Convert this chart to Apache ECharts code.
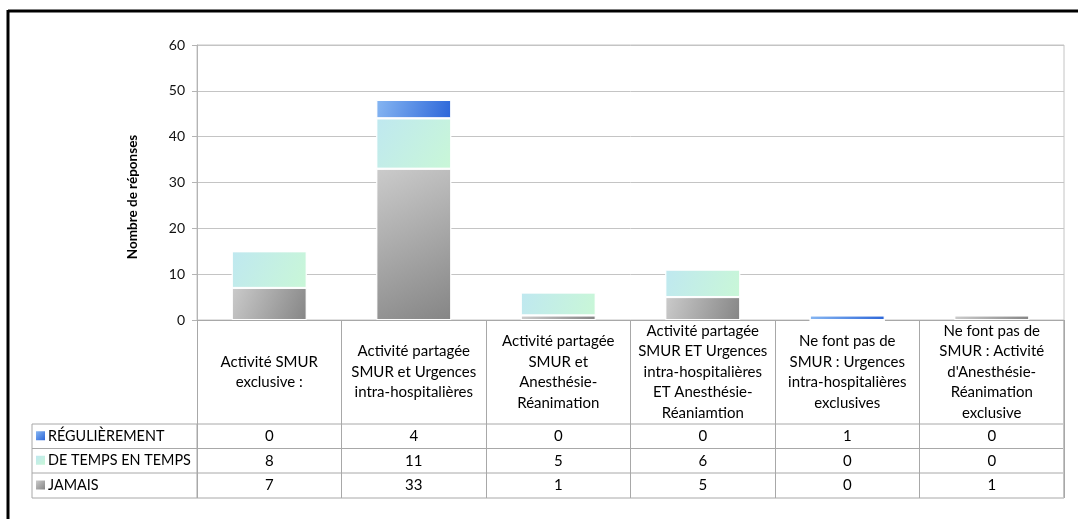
<!DOCTYPE html>
<html>
<head>
<meta charset="utf-8">
<script src="https://cdn.jsdelivr.net/npm/echarts@6/dist/echarts.min.js"></script>
<style>
  html, body { margin: 0; padding: 0; background: #fff; }
  #chart { width: 1078px; height: 519px; }
</style>
</head>
<body>
<div id="chart"></div>
<script>
// catégories (retours à la ligne comme dans le tableau d'origine)
const categories = [
  "Activité SMUR\nexclusive :",
  "Activité partagée\nSMUR et Urgences\nintra-hospitalières",
  "Activité partagée\nSMUR et\nAnesthésie-\nRéanimation",
  "Activité partagée\nSMUR ET Urgences\nintra-hospitalières\nET Anesthésie-\nRéaniamtion",
  "Ne font pas de\nSMUR : Urgences\nintra-hospitalières\nexclusives",
  "Ne font pas de\nSMUR : Activité\nd'Anesthésie-\nRéanimation\nexclusive"
];
const seriesNames = ["RÉGULIÈREMENT", "DE TEMPS EN TEMPS", "JAMAIS"];
const regulierement = [0, 4, 0, 0, 1, 0];
const deTempsEnTemps = [8, 11, 5, 6, 0, 0];
const jamais = [7, 33, 1, 5, 0, 1];
const yTitle = "Nombre de réponses";

const FONT = "Lato";
const grad = (a, b) => new echarts.graphic.LinearGradient(0, 0, 1, 1, [
  { offset: 0, color: a }, { offset: 1, color: b }
]);
const colors = {
  "RÉGULIÈREMENT": ["#86b6f2", "#2c66d9"],
  "DE TEMPS EN TEMPS": ["#bfe8f0", "#c9f7d7"],
  "JAMAIS": ["#cbcbcb", "#858585"]
};

const chart = echarts.init(document.getElementById("chart"));

// empilement : JAMAIS en bas, RÉGULIÈREMENT en haut
const stackOrder = [
  ["JAMAIS", jamais],
  ["DE TEMPS EN TEMPS", deTempsEnTemps],
  ["RÉGULIÈREMENT", regulierement]
];

chart.setOption({
  animation: false,
  grid: { left: 197, right: 14, top: 45, bottom: 199, show: true, borderColor: "#c4c4c4", borderWidth: 1 },
  xAxis: {
    type: "category",
    data: categories,
    axisLine: { show: true, lineStyle: { color: "#a8a8a8" } },
    axisTick: { show: true, interval: 0, length: 178, lineStyle: { color: "#a8a8a8" } },
    axisLabel: { show: false }
  },
  yAxis: {
    type: "value",
    min: 0, max: 60, interval: 10,
    axisLine: { show: true, lineStyle: { color: "#b4b4b4" } },
    axisTick: { show: true, length: 5, lineStyle: { color: "#b4b4b4" } },
    axisLabel: { color: "#111", fontSize: 14, fontFamily: FONT, margin: 12 },
    splitLine: { lineStyle: { color: "#c4c4c4" } }
  },
  series: stackOrder.map(([name, data]) => ({
    name: name,
    type: "bar",
    stack: "total",
    data: data,
    barWidth: 75,
    itemStyle: {
      color: grad(colors[name][0], colors[name][1]),
      borderColor: "rgba(255,255,255,0.85)",
      borderWidth: 1
    }
  }))
});

// tableau de données sous le graphique
const rowTop = [424, 448.5, 473];
const rowBottom = 498;
const tableLeft = 32;
const tableRight = 1064;
const g = [];

// cadre noir (haut et gauche)
g.push({ type: "line", shape: { x1: 8, y1: 11, x2: 1078, y2: 11 }, style: { stroke: "#000", lineWidth: 3 } });
g.push({ type: "line", shape: { x1: 8, y1: 10, x2: 8, y2: 519 }, style: { stroke: "#000", lineWidth: 3 } });

// titre de l'axe
g.push({
  type: "text", x: 133, y: 197, rotation: Math.PI / 2,
  style: { text: yTitle, font: "bold 13.5px " + FONT, fill: "#000", align: "center", verticalAlign: "middle" }
});

// lignes horizontales
rowTop.concat([rowBottom]).forEach(y => {
  g.push({ type: "line", shape: { x1: tableLeft, y1: y, x2: tableRight, y2: y }, style: { stroke: "#a8a8a8", lineWidth: 1 } });
});
g.push({ type: "line", shape: { x1: tableLeft, y1: rowTop[0], x2: tableLeft, y2: rowBottom }, style: { stroke: "#a8a8a8", lineWidth: 1 } });
g.push({ type: "line", shape: { x1: 197, y1: rowTop[0], x2: 197, y2: rowBottom }, style: { stroke: "#a8a8a8", lineWidth: 1 } });
g.push({ type: "line", shape: { x1: tableRight, y1: 320, x2: tableRight, y2: rowBottom }, style: { stroke: "#c4c4c4", lineWidth: 2 } });

// libellés des catégories
categories.forEach((c, i) => {
  const x = chart.convertToPixel({ xAxisIndex: 0 }, i);
  g.push({
    type: "text", x: x, y: 372,
    style: { text: c, font: "15px " + FONT, fill: "#000", align: "center", verticalAlign: "middle", lineHeight: 20.5 }
  });
});

// lignes de données
const rows = [
  ["RÉGULIÈREMENT", regulierement],
  ["DE TEMPS EN TEMPS", deTempsEnTemps],
  ["JAMAIS", jamais]
];
rows.forEach(([name, vals], r) => {
  const yc = (rowTop[r] + (r < 2 ? rowTop[r + 1] : rowBottom)) / 2;
  g.push({
    type: "rect", shape: { x: 36, y: yc - 5, width: 9, height: 9 },
    style: { fill: grad(colors[name][0], colors[name][1]) }
  });
  g.push({
    type: "text", x: 48, y: yc,
    style: { text: name, font: "14.4px " + FONT, fill: "#000", align: "left", verticalAlign: "middle" }
  });
  vals.forEach((v, i) => {
    const x = chart.convertToPixel({ xAxisIndex: 0 }, i);
    g.push({
      type: "text", x: x, y: yc,
      style: { text: String(v), font: "15px " + FONT, fill: "#000", align: "center", verticalAlign: "middle" }
    });
  });
});

chart.setOption({ graphic: { elements: g } });
</script>
</body>
</html>
